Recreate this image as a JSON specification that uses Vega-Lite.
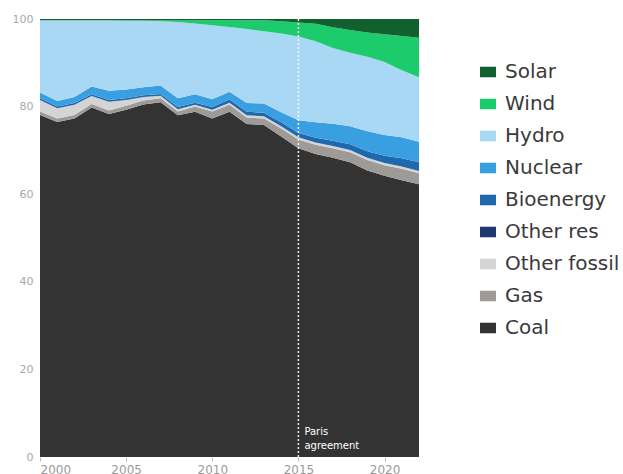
{
  "$schema": "https://vega.github.io/schema/vega-lite/v6.json",
  "autosize": {"type": "none"},
  "width": 379,
  "height": 438,
  "padding": {"left": 40, "top": 19, "right": 204, "bottom": 17},
  "background": "white",
  "config": {"view": {"stroke": null}, "font": "Inter"},
  "datasets": {
    "mix": [
      {"year": 2000, "Coal": 78.1, "Gas": 0.8, "Other fossil": 2.6, "Other res": 0, "Bioenergy": 0.4, "Nuclear": 1.3, "Hydro": 16.5, "Wind": 0, "Solar": 0.3},
      {"year": 2001, "Coal": 76.5, "Gas": 0.8, "Other fossil": 2.3, "Other res": 0, "Bioenergy": 0.4, "Nuclear": 1.3, "Hydro": 18.4, "Wind": 0, "Solar": 0.3},
      {"year": 2002, "Coal": 77.3, "Gas": 0.8, "Other fossil": 2.3, "Other res": 0, "Bioenergy": 0.4, "Nuclear": 1.4, "Hydro": 17.5, "Wind": 0, "Solar": 0.3},
      {"year": 2003, "Coal": 79.8, "Gas": 0.8, "Other fossil": 1.8, "Other res": 0, "Bioenergy": 0.4, "Nuclear": 1.8, "Hydro": 15.1, "Wind": 0, "Solar": 0.3},
      {"year": 2004, "Coal": 78.3, "Gas": 0.8, "Other fossil": 2.0, "Other res": 0, "Bioenergy": 0.4, "Nuclear": 2.1, "Hydro": 16.1, "Wind": 0, "Solar": 0.3},
      {"year": 2005, "Coal": 79.3, "Gas": 0.9, "Other fossil": 1.3, "Other res": 0, "Bioenergy": 0.4, "Nuclear": 2.0, "Hydro": 15.7, "Wind": 0.1, "Solar": 0.3},
      {"year": 2006, "Coal": 80.5, "Gas": 0.9, "Other fossil": 0.8, "Other res": 0, "Bioenergy": 0.4, "Nuclear": 1.8, "Hydro": 15.2, "Wind": 0.1, "Solar": 0.3},
      {"year": 2007, "Coal": 81.0, "Gas": 0.9, "Other fossil": 0.6, "Other res": 0, "Bioenergy": 0.4, "Nuclear": 1.9, "Hydro": 14.7, "Wind": 0.2, "Solar": 0.3},
      {"year": 2008, "Coal": 78.0, "Gas": 0.9, "Other fossil": 0.5, "Other res": 0, "Bioenergy": 0.5, "Nuclear": 2.0, "Hydro": 17.4, "Wind": 0.4, "Solar": 0.3},
      {"year": 2009, "Coal": 78.8, "Gas": 1.2, "Other fossil": 0.4, "Other res": 0, "Bioenergy": 0.5, "Nuclear": 1.9, "Hydro": 16.2, "Wind": 0.7, "Solar": 0.3},
      {"year": 2010, "Coal": 77.3, "Gas": 1.6, "Other fossil": 0.4, "Other res": 0, "Bioenergy": 0.6, "Nuclear": 1.8, "Hydro": 16.9, "Wind": 1.1, "Solar": 0.3},
      {"year": 2011, "Coal": 78.8, "Gas": 1.6, "Other fossil": 0.5, "Other res": 0, "Bioenergy": 0.7, "Nuclear": 1.8, "Hydro": 14.8, "Wind": 1.5, "Solar": 0.3},
      {"year": 2012, "Coal": 76.0, "Gas": 1.5, "Other fossil": 0.5, "Other res": 0, "Bioenergy": 0.8, "Nuclear": 2.0, "Hydro": 16.9, "Wind": 2.0, "Solar": 0.3},
      {"year": 2013, "Coal": 75.8, "Gas": 1.5, "Other fossil": 0.5, "Other res": 0, "Bioenergy": 0.8, "Nuclear": 2.1, "Hydro": 16.5, "Wind": 2.5, "Solar": 0.3},
      {"year": 2014, "Coal": 73.2, "Gas": 1.8, "Other fossil": 0.5, "Other res": 0, "Bioenergy": 0.9, "Nuclear": 2.3, "Hydro": 18.0, "Wind": 2.8, "Solar": 0.5},
      {"year": 2015, "Coal": 70.5, "Gas": 2.0, "Other fossil": 0.5, "Other res": 0, "Bioenergy": 1.0, "Nuclear": 2.9, "Hydro": 19.1, "Wind": 3.2, "Solar": 0.8},
      {"year": 2016, "Coal": 69.2, "Gas": 2.1, "Other fossil": 0.5, "Other res": 0, "Bioenergy": 1.1, "Nuclear": 3.5, "Hydro": 18.5, "Wind": 4.0, "Solar": 1.1},
      {"year": 2017, "Coal": 68.3, "Gas": 2.2, "Other fossil": 0.5, "Other res": 0, "Bioenergy": 1.2, "Nuclear": 3.9, "Hydro": 17.3, "Wind": 4.7, "Solar": 1.9},
      {"year": 2018, "Coal": 67.3, "Gas": 2.3, "Other fossil": 0.5, "Other res": 0, "Bioenergy": 1.3, "Nuclear": 4.1, "Hydro": 16.8, "Wind": 5.2, "Solar": 2.5},
      {"year": 2019, "Coal": 65.4, "Gas": 2.4, "Other fossil": 0.5, "Other res": 0, "Bioenergy": 1.5, "Nuclear": 4.6, "Hydro": 17.0, "Wind": 5.5, "Solar": 3.1},
      {"year": 2020, "Coal": 64.2, "Gas": 2.4, "Other fossil": 0.5, "Other res": 0, "Bioenergy": 1.7, "Nuclear": 4.7, "Hydro": 16.7, "Wind": 6.3, "Solar": 3.5},
      {"year": 2021, "Coal": 63.2, "Gas": 2.6, "Other fossil": 0.5, "Other res": 0, "Bioenergy": 1.9, "Nuclear": 4.8, "Hydro": 15.3, "Wind": 7.8, "Solar": 3.9},
      {"year": 2022, "Coal": 62.3, "Gas": 2.5, "Other fossil": 0.5, "Other res": 0, "Bioenergy": 2.0, "Nuclear": 4.7, "Hydro": 14.7, "Wind": 9.0, "Solar": 4.3}
    ],
    "events": [
      {"year": 2015, "label": "Paris agreement"}
    ]
  },
  "layer": [
    {
      "data": {"name": "mix"},
      "transform": [
        {"fold": ["Coal", "Gas", "Other fossil", "Other res", "Bioenergy", "Nuclear", "Hydro", "Wind", "Solar"], "as": ["source", "share"]},
        {"calculate": "indexof(['Coal','Gas','Other fossil','Other res','Bioenergy','Nuclear','Hydro','Wind','Solar'], datum.source)", "as": "stackorder"}
      ],
      "mark": {"type": "area", "interpolate": "linear"},
      "encoding": {
        "x": {
          "field": "year", "type": "quantitative",
          "scale": {"domain": [2000, 2022], "nice": false, "zero": false},
          "axis": {
            "title": null, "values": [2000, 2005, 2010, 2015, 2020], "format": "d",
            "grid": false, "domain": false, "tickColor": "#bbbbbb", "tickSize": 4,
            "labelColor": "#9a9a9a", "labelFontSize": 12, "labelPadding": 3, "labelFont": "DejaVu Sans"
          }
        },
        "y": {
          "field": "share", "type": "quantitative", "stack": "zero",
          "scale": {"domain": [0, 100], "nice": false},
          "axis": {
            "title": null, "values": [0, 20, 40, 60, 80, 100], "grid": false, "domain": false,
            "ticks": false, "labelColor": "#a8a8a8", "labelFontSize": 11, "labelPadding": 7, "labelFont": "DejaVu Sans"
          }
        },
        "color": {
          "field": "source", "type": "nominal",
          "scale": {
            "domain": ["Solar", "Wind", "Hydro", "Nuclear", "Bioenergy", "Other res", "Other fossil", "Gas", "Coal"],
            "range": ["#12602f", "#1ccb6c", "#a9d8f4", "#3a9fe0", "#1e68ad", "#1f3a70", "#d4d4d4", "#9e9a97", "#333333"]
          },
          "legend": {
            "title": null, "orient": "none", "legendX": 438, "legendY": 43,
            "symbolType": "M-1,-0.66H1V0.66H-1Z", "symbolSize": 256, "symbolStrokeWidth": 0,
            "labelFontSize": 20, "labelColor": "#3a3a3a", "labelFont": "DejaVu Sans", "labelOffset": 7,
            "rowPadding": 12, "labelLimit": 200
          }
        },
        "order": {"field": "stackorder", "type": "quantitative"}
      }
    },
    {
      "data": {"name": "events"},
      "mark": {"type": "rule", "color": "white", "strokeDash": [2, 2], "strokeWidth": 1.5, "opacity": 0.9},
      "encoding": {
        "x": {"field": "year", "type": "quantitative"},
        "y": {"datum": 0},
        "y2": {"datum": 100}
      }
    },
    {
      "data": {"name": "events"},
      "mark": {"type": "text", "color": "white", "align": "left", "baseline": "middle", "dx": 6, "dy": -25, "fontSize": 10, "font": "DejaVu Sans", "lineBreak": " ", "lineHeight": 14},
      "encoding": {
        "x": {"field": "year", "type": "quantitative"},
        "y": {"datum": 0},
        "text": {"field": "label"}
      }
    }
  ]
}
